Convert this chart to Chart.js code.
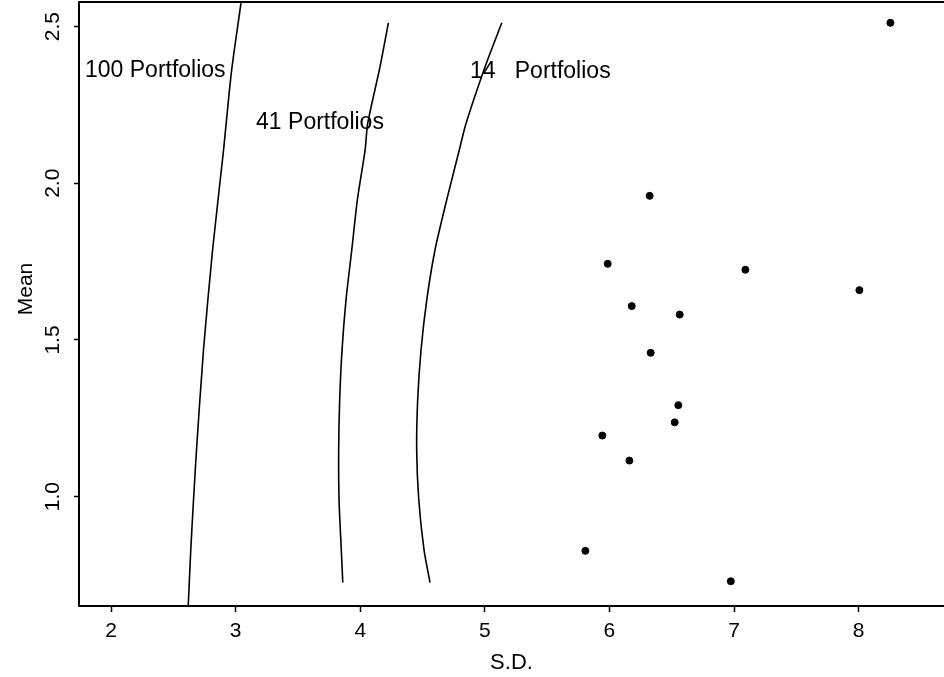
<!DOCTYPE html>
<html>
<head>
<meta charset="utf-8">
<script src="https://cdn.jsdelivr.net/npm/chart.js@4"></script>
<style>
  body { margin: 0; background: #fff; overflow: hidden; }
  #wrap { width: 944px; height: 677px; }
</style>
</head>
<body>
<div id="wrap"><canvas id="frontier"></canvas></div>
<script>
// efficient frontiers (S.D. vs Mean)
const frontier100Mean = [0.654, 0.830, 0.989, 1.149, 1.468, 1.787, 2.106, 2.358, 2.575];
const frontier100SD   = [2.620, 2.640, 2.662, 2.686, 2.742, 2.815, 2.903, 2.967, 3.043];

const frontier41Mean = [0.726, 0.830, 0.989, 1.149, 1.308, 1.468, 1.628, 1.787, 1.947, 2.106, 2.191, 2.372, 2.512];
const frontier41SD   = [3.860, 3.848, 3.830, 3.827, 3.835, 3.854, 3.886, 3.932, 3.977, 4.039, 4.060, 4.159, 4.226];

const frontier14Mean = [0.726, 0.830, 0.989, 1.149, 1.308, 1.468, 1.628, 1.787, 1.947, 2.106, 2.191, 2.372, 2.512];
const frontier14SD   = [4.560, 4.512, 4.470, 4.453, 4.461, 4.488, 4.534, 4.600, 4.694, 4.795, 4.849, 5.002, 5.136];

// individual portfolios
const assetSD   = [6.323, 5.986, 7.091, 8.006, 6.179, 6.564, 6.331, 6.553, 6.524, 5.943, 6.160, 5.807, 6.974, 8.255];
const assetMean = [1.960, 1.743, 1.724, 1.659, 1.608, 1.581, 1.459, 1.292, 1.237, 1.195, 1.115, 0.827, 0.730, 2.512];

const xTicks = [2, 3, 4, 5, 6, 7, 8];
const yTicks = [1.0, 1.5, 2.0, 2.5];

const curveLabels = ["100 Portfolios", "41 Portfolios", "14   Portfolios"];
const curveLabelSD = [1.791, 3.164, 4.881];
const curveLabelMean = [2.358, 2.192, 2.355];

const FONT = '"Liberation Sans", Arial, Helvetica, sans-serif';

function pts(xs, ys) {
    return xs.map((x, i) => ({ x: x, y: ys[i] }));
}

function curve(xs, ys) {
    return {
        data: pts(xs, ys),
        showLine: true,
        borderColor: "#000",
        borderWidth: 1.6,
        pointRadius: 0,
        tension: 0.25,
        fill: false
    };
}

function noPad(s) {
    s.paddingTop = 0;
    s.paddingBottom = 0;
    s.paddingLeft = 0;
    s.paddingRight = 0;
}

const labelPlugin = {
    id: "curveLabels",
    afterDatasetsDraw(chart) {
        const ctx = chart.ctx;
        const xs = chart.scales.x, ys = chart.scales.y;
        const area = chart.chartArea;
        ctx.save();
        // top frame line
        ctx.strokeStyle = "#000";
        ctx.lineWidth = 2;
        ctx.beginPath();
        ctx.moveTo(area.left, area.top);
        ctx.lineTo(area.right, area.top);
        ctx.stroke();
        ctx.fillStyle = "#000";
        ctx.font = "23px " + FONT;
        ctx.textAlign = "left";
        ctx.textBaseline = "middle";
        curveLabels.forEach((t, i) => {
            ctx.fillText(t, xs.getPixelForValue(curveLabelSD[i]), ys.getPixelForValue(curveLabelMean[i]));
        });
        // y axis title, sits a bit above the middle of the axis
        ctx.font = "21px " + FONT;
        ctx.textAlign = "center";
        ctx.translate(26, (area.top + area.bottom) / 2 - 15);
        ctx.rotate(-Math.PI / 2);
        ctx.fillText("Mean", 0, 0);
        ctx.restore();
    }
};

new Chart(document.getElementById("frontier"), {
    type: "scatter",
    data: {
        datasets: [
            curve(frontier100SD, frontier100Mean),
            curve(frontier41SD, frontier41Mean),
            curve(frontier14SD, frontier14Mean),
            {
                data: pts(assetSD, assetMean),
                backgroundColor: "#000",
                borderColor: "#000",
                pointRadius: 3.5,
                pointHoverRadius: 3.5
            }
        ]
    },
    options: {
        responsive: true,
        maintainAspectRatio: false,
        animation: false,
        layout: { autoPadding: false, padding: { top: 2, right: 0, left: 0, bottom: 0 } },
        plugins: { legend: { display: false }, tooltip: { enabled: false } },
        scales: {
            x: {
                type: "linear",
                min: 1.743,
                max: 8.685,
                afterFit: s => { s.height = 71; noPad(s); },
                afterBuildTicks: s => { s.ticks = xTicks.map(v => ({ value: v })); },
                border: { color: "#000", width: 2 },
                grid: { drawOnChartArea: false, drawTicks: true, tickLength: 6, color: "#000", tickWidth: 1.5 },
                ticks: {
                    color: "#000",
                    font: { family: FONT, size: 21 },
                    padding: 7,
                    maxRotation: 0,
                    callback: v => String(v)
                },
                title: {
                    display: true,
                    text: "S.D.",
                    color: "#000",
                    font: { family: FONT, size: 22 },
                    padding: { top: 0, bottom: 1 }
                }
            },
            y: {
                type: "linear",
                min: 0.651,
                max: 2.5785,
                afterFit: s => { s.width = 79; noPad(s); },
                afterBuildTicks: s => { s.ticks = yTicks.map(v => ({ value: v })); },
                border: { color: "#000", width: 2 },
                grid: { drawOnChartArea: false, drawTicks: true, tickLength: 5, color: "#000", tickWidth: 1.5 },
                ticks: {
                    color: "#000",
                    font: { family: FONT, size: 21 },
                    padding: 6,
                    minRotation: 90,
                    maxRotation: 90,
                    crossAlign: "center",
                    callback: v => Number(v).toFixed(1)
                },
                title: { display: false }
            }
        }
    },
    plugins: [labelPlugin]
});
</script>
</body>
</html>
